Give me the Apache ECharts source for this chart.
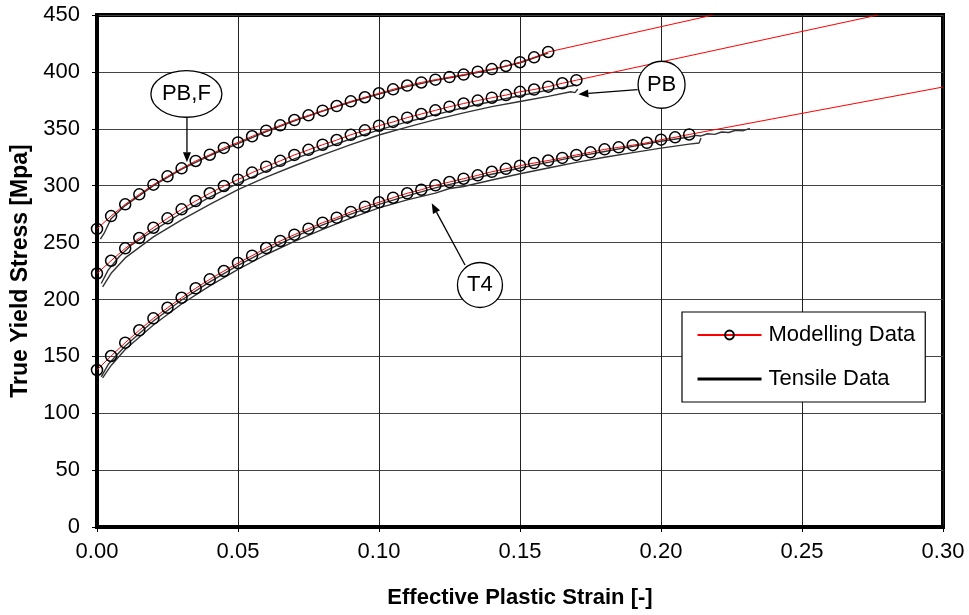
<!DOCTYPE html>
<html>
<head>
<meta charset="utf-8">
<script src="https://cdn.jsdelivr.net/npm/echarts@6/dist/echarts.min.js"></script>
<style>
html, body { margin: 0; padding: 0; background: #fff; }
#chart { width: 969px; height: 615px; }
</style>
</head>
<body>
<div id="chart"></div>
<script>
// strain at each modelling marker (shared by the three materials)
var markerStrain = [
    0.000, 0.005, 0.010, 0.015, 0.020, 0.025, 0.030, 0.035, 0.040, 0.045,
    0.050, 0.055, 0.060, 0.065, 0.070, 0.075, 0.080, 0.085, 0.090, 0.095,
    0.100, 0.105, 0.110, 0.115, 0.120, 0.125, 0.130, 0.135, 0.140, 0.145,
    0.150, 0.155, 0.160, 0.165, 0.170, 0.175, 0.180, 0.185, 0.190, 0.195,
    0.200, 0.205, 0.210
];

// modelling stress read at the markers [MPa]
var modelPBF = [
    262, 273.3, 283.6, 292.4, 300.9, 308.2, 315.2, 321.7, 327.2, 333.2,
    338, 343.4, 348.3, 353, 357.7, 361.8, 365.9, 370, 374.1, 377.7,
    381.2, 384.7, 388, 390.7, 393.2, 395.4, 397.6, 400.2, 402.5, 405.2,
    408.5, 412.8, 417.5
];
var modelPB = [
    222.8, 234, 244.9, 254, 263, 271.3, 279.2, 286.5, 293.3, 299.7,
    305.3, 311.5, 316.7, 321.8, 327, 331.5, 336, 340.1, 344.7, 348.6,
    352.7, 356, 359.8, 363, 366.2, 369.4, 372.2, 374.8, 377.3, 379.6,
    382.5, 384.5, 387, 390, 392.7
];
var modelT4 = [
    138, 150.3, 162, 172.9, 183.4, 192.7, 201.5, 209.8, 217.7, 225,
    232, 238.5, 245.2, 251.4, 256.9, 262.2, 267.5, 271.9, 276.9, 281.5,
    285.4, 289.4, 293.3, 296.4, 300.3, 303.2, 306.1, 309.1, 312.2, 314.8,
    317.6, 319.9, 322.1, 324.4, 327, 329.3, 331.9, 333.7, 335.6, 337.7,
    340.4, 342.5, 345
];

// end of the red model line beyond the last marker
var modelEndPBF = [0.2185, 450];
var modelEndPB = [0.277, 450];
var modelEndT4 = [0.30, 386.7];

// tensile test curves [strain, stress]
var tensilePBF = [
    [0.0012, 253], [0.0025, 258], [0.005, 271], [0.01, 282.5], [0.02, 300],
    [0.03, 314.5], [0.04, 326.5], [0.05, 337], [0.06, 347.5], [0.07, 357],
    [0.08, 365.5], [0.09, 373.5], [0.10, 380.5], [0.11, 387], [0.12, 392.5],
    [0.13, 397], [0.14, 402], [0.15, 408], [0.16, 416.5]
];
var tensilePB1 = [
    [0.0015, 214], [0.004, 226], [0.008, 238], [0.012, 247.5], [0.02, 260.5],
    [0.03, 276], [0.04, 290], [0.05, 302], [0.06, 313], [0.07, 323.5],
    [0.08, 332.5], [0.09, 341], [0.10, 349], [0.11, 356], [0.12, 362.5],
    [0.13, 368.5], [0.14, 374], [0.15, 379], [0.16, 384], [0.17, 388.5]
];
var tensilePB2 = [
    [0.002, 211], [0.005, 223], [0.01, 236.5], [0.02, 255], [0.03, 270],
    [0.04, 283.5], [0.05, 296.5], [0.06, 307.5], [0.07, 317.5], [0.08, 327],
    [0.09, 336], [0.10, 344.5], [0.11, 351.5], [0.12, 358], [0.13, 364],
    [0.14, 369.5], [0.15, 374], [0.16, 378.5], [0.168, 382.5], [0.1695, 381.8],
    [0.1705, 385]
];
var tensileT41 = [
    [0.0015, 132], [0.004, 143], [0.01, 159], [0.02, 181], [0.03, 199.5],
    [0.04, 215.5], [0.05, 230], [0.06, 243], [0.07, 255], [0.08, 265.5],
    [0.09, 275], [0.10, 283.5], [0.11, 291], [0.12, 298], [0.13, 304],
    [0.14, 310], [0.15, 315.5], [0.16, 320.5], [0.17, 325.5], [0.18, 330],
    [0.19, 334.5], [0.20, 339], [0.21, 342.8], [0.2125, 344.2], [0.214, 343.6],
    [0.2165, 345.6], [0.219, 345.1], [0.2215, 347.2], [0.224, 346.7], [0.2265, 348.7],
    [0.229, 348.2], [0.2315, 350.3]
];
var tensileT42 = [
    [0.002, 131], [0.005, 142], [0.01, 156], [0.02, 177.5], [0.03, 196],
    [0.04, 212], [0.05, 226.5], [0.06, 239.5], [0.07, 251], [0.08, 261.5],
    [0.09, 271.5], [0.10, 280.5], [0.11, 287.5], [0.12, 293.5], [0.125, 297.5],
    [0.13, 299.3], [0.14, 305], [0.15, 310.5], [0.16, 315.5], [0.17, 320.5],
    [0.18, 325], [0.19, 329], [0.20, 333], [0.21, 336.5], [0.2135, 337.5],
    [0.2142, 342]
];

// callouts: label, ellipse centre (data coords), radii in px, arrow from/to (data coords)
var callouts = [
    { text: 'PB,F', center: [0.0317, 380.6], rx: 35.5, ry: 23.3, from: [0.0319, 360.2], to: [0.0319, 320.5] },
    { text: 'PB', center: [0.2002, 388.7], rx: 23.5, ry: 23.5, from: [0.1917, 384.4], to: [0.1707, 380.4] },
    { text: 'T4', center: [0.1358, 212.7], rx: 22.5, ry: 22.5, from: [0.1305, 230.3], to: [0.1187, 284.5] }
];

var FONT = '"Liberation Sans", Arial, sans-serif';

var chart = echarts.init(document.getElementById('chart'));

var modelSeries = function(stress, endPoint) {
    var data = stress.map(function(s, i) { return [markerStrain[i], s]; });
    data.push({ value: endPoint, symbol: 'none' });
    return {
        name: 'Modelling Data',
        type: 'line',
        data: data,
        symbol: 'circle',
        symbolSize: 11,
        lineStyle: { color: '#ff0000', width: 1 },
        itemStyle: { color: 'rgba(255,255,255,0)', borderColor: '#000', borderWidth: 1.5 },
        emphasis: { disabled: true },
        z: 4
    };
};

var tensileSeries = function(points) {
    return {
        name: 'Tensile Data',
        type: 'line',
        data: points,
        symbol: 'none',
        lineStyle: { color: '#333', width: 1.4 },
        itemStyle: { color: 'rgba(0,0,0,0)', borderWidth: 0 },
        emphasis: { disabled: true },
        z: 3
    };
};

var option = {
    animation: false,
    backgroundColor: '#fff',
    textStyle: { fontFamily: FONT },
    grid: {
        left: 97, right: 26, top: 15, bottom: 88,
        show: true, borderColor: '#000', borderWidth: 4,
        outerBoundsMode: 'none'
    },
    xAxis: {
        type: 'value',
        min: 0, max: 0.3, interval: 0.05,
        name: 'Effective Plastic Strain [-]',
        nameLocation: 'middle',
        nameGap: 60,
        nameTextStyle: { fontSize: 22, fontWeight: 'bold', color: '#000', fontFamily: FONT },
        axisLine: { show: true, lineStyle: { color: '#000', width: 4 } },
        axisTick: { show: true, length: 5, lineStyle: { color: '#000', width: 1 } },
        axisLabel: {
            fontSize: 22, color: '#000', margin: 14, fontFamily: FONT,
            formatter: function(v) { return v.toFixed(2); }
        },
        splitLine: { show: true, lineStyle: { color: '#222', width: 1 } }
    },
    yAxis: {
        type: 'value',
        min: 0, max: 450, interval: 50,
        name: 'True Yield Stress [Mpa]',
        nameLocation: 'middle',
        nameGap: 60,
        nameTextStyle: { fontSize: 23, fontWeight: 'bold', color: '#000', fontFamily: FONT },
        axisLine: { show: true, lineStyle: { color: '#000', width: 4 } },
        axisTick: { show: true, length: 5, lineStyle: { color: '#000', width: 1 } },
        axisLabel: { fontSize: 22, color: '#000', margin: 17, fontFamily: FONT },
        splitLine: { show: true, lineStyle: { color: '#444', width: 1.2 } }
    },
    legend: {
        left: 682, top: 312,
        orient: 'vertical',
        data: [
            { name: 'Modelling Data' },
            {
                name: 'Tensile Data',
                lineStyle: { color: '#000', width: 3 },
                itemStyle: { color: 'rgba(0,0,0,0)', borderWidth: 0 }
            }
        ],
        itemWidth: 64, itemHeight: 11, itemGap: 22,
        padding: [12, 10, 12, 14],
        borderColor: '#000', borderWidth: 1.2,
        backgroundColor: '#fff',
        selectedMode: false,
        textStyle: { fontSize: 22, color: '#000', fontFamily: FONT, padding: [0, 0, 0, 2] }
    },
    series: [
        tensileSeries(tensilePBF),
        tensileSeries(tensilePB1),
        tensileSeries(tensilePB2),
        tensileSeries(tensileT41),
        tensileSeries(tensileT42),
        modelSeries(modelPBF, modelEndPBF),
        modelSeries(modelPB, modelEndPB),
        modelSeries(modelT4, modelEndT4)
    ]
};

chart.setOption(option);

// callout bubbles and arrows, placed through the grid's own scales
var graphics = [];
callouts.forEach(function(c) {
    var ctr = chart.convertToPixel({ gridIndex: 0 }, c.center);
    var p0 = chart.convertToPixel({ gridIndex: 0 }, c.from);
    var p1 = chart.convertToPixel({ gridIndex: 0 }, c.to);
    var dx = p1[0] - p0[0], dy = p1[1] - p0[1];
    var len = Math.sqrt(dx * dx + dy * dy);
    var ux = dx / len, uy = dy / len;
    var headLen = 10, headW = 4;
    var bx = p1[0] - ux * headLen, by = p1[1] - uy * headLen;

    graphics.push({
        type: 'line',
        shape: { x1: p0[0], y1: p0[1], x2: bx, y2: by },
        style: { stroke: '#000', lineWidth: 1.3 },
        z: 10
    });
    graphics.push({
        type: 'polygon',
        shape: { points: [[p1[0], p1[1]], [bx - uy * headW, by + ux * headW], [bx + uy * headW, by - ux * headW]] },
        style: { fill: '#000' },
        z: 10
    });
    graphics.push({
        type: 'ellipse',
        shape: { cx: ctr[0], cy: ctr[1], rx: c.rx, ry: c.ry },
        style: { fill: '#fff', stroke: '#000', lineWidth: 1.3 },
        z: 11
    });
    graphics.push({
        type: 'text',
        x: ctr[0], y: ctr[1],
        style: {
            text: c.text, fill: '#000', font: '22px ' + FONT,
            align: 'center', verticalAlign: 'middle'
        },
        z: 12
    });
});

chart.setOption({ graphic: graphics });
</script>
</body>
</html>
